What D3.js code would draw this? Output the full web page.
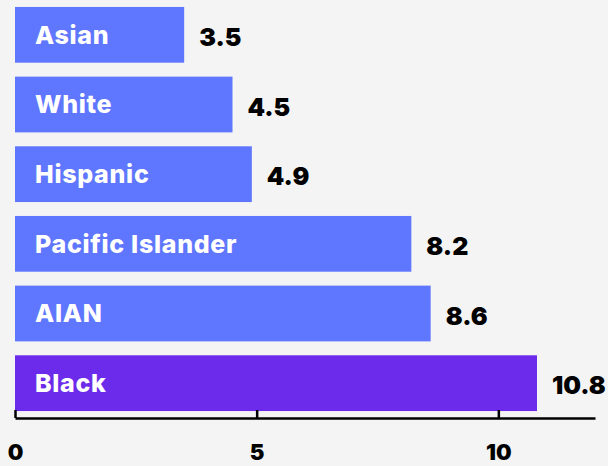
<!DOCTYPE html>
<html><head><meta charset="utf-8">
<script src="https://cdn.jsdelivr.net/npm/d3@7"></script>
<style>
html,body{margin:0;padding:0;background:#f4f4f4;}
svg{display:block;}
</style></head>
<body>
<svg id="c" width="608" height="466"></svg>
<script>
const categories = ["Asian","White","Hispanic","Pacific Islander","AIAN","Black"];
const values = [3.5,4.5,4.9,8.2,8.6,10.8];
const tickValues = [0,5,10];

const svg = d3.select("#c");
const W = 608, H = 466;
svg.append("rect").attr("width",W).attr("height",H).attr("fill","#f4f4f4");

const x = d3.scaleLinear().domain([0,12]).range([15,595]);
const y = d3.scaleBand().domain(categories).range([0,418]).paddingInner(0.2).paddingOuter(0.1);

const data = categories.map((c,i)=>({c, v:values[i]}));

svg.selectAll("rect.bar").data(data).join("rect")
  .attr("class","bar")
  .attr("x", x(0))
  .attr("y", d=>y(d.c))
  .attr("width", d=>x(d.v)-x(0))
  .attr("height", y.bandwidth())
  .attr("fill", d=>d.c==="Black" ? "#6c2aea" : "#5f76fe");

svg.selectAll("text.cat").data(data).join("text")
  .attr("class","cat")
  .attr("x", x(0)+20)
  .attr("y", d=>y(d.c)+y.bandwidth()/2)
  .attr("dy","0.35em")
  .attr("fill","#fff")
  .style("font-family","Inter, 'DejaVu Sans', sans-serif")
  .style("font-weight","800")
  .style("font-size","25px")
  .style("letter-spacing","0.7px")
  .text(d=>d.c);

svg.selectAll("text.val").data(data).join("text")
  .attr("class","val")
  .attr("x", d=>x(d.v)+15)
  .attr("y", d=>y(d.c)+y.bandwidth()/2 + 11)
  .attr("fill","#000")
  .style("font-family","Inter, 'DejaVu Sans', sans-serif")
  .style("font-weight","900")
  .style("font-size","25px")
  .text(d=>d.v.toFixed(1));

const axis = d3.axisBottom(x).tickValues(tickValues).tickSizeInner(-8).tickSizeOuter(0).tickPadding(26).tickFormat(d3.format("d"));
const g = svg.append("g").attr("transform","translate(0,418)").call(axis);
g.select(".domain").attr("stroke","#000").attr("stroke-width",2.5);
g.selectAll(".tick line").attr("stroke","#000").attr("stroke-width",2.5);
g.selectAll(".tick text")
  .attr("fill","#000")
  .style("font-family","Inter, 'DejaVu Sans', sans-serif")
  .style("font-weight","900")
  .style("font-size","22px");
</script>
</body></html>
